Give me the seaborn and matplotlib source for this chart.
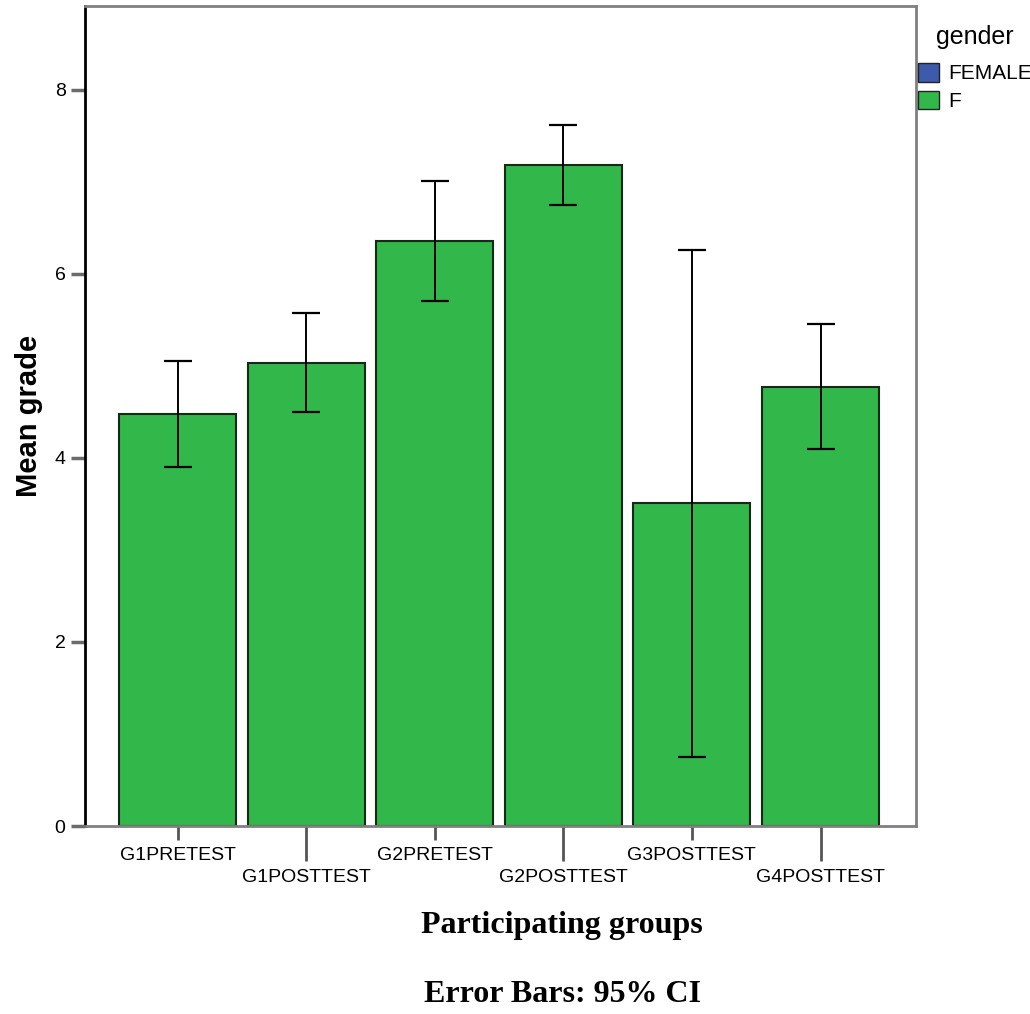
import matplotlib
matplotlib.use("Agg")
import matplotlib.pyplot as plt
from matplotlib.patches import Patch
import numpy as np
import pandas as pd
import seaborn as sns

# Mean grade per participating group with 95% CI bounds
groups = ["G1PRETEST", "G1POSTTEST", "G2PRETEST", "G2POSTTEST", "G3POSTTEST", "G4POSTTEST"]
mean_grade = [4.48, 5.03, 6.36, 7.18, 3.51, 4.77]
ci_low = [3.90, 4.50, 5.71, 6.75, 0.75, 4.10]
ci_high = [5.05, 5.58, 7.01, 7.62, 6.26, 5.46]
legend_labels = ["FEMALE", "F"]
y_ticks = [0, 2, 4, 6, 8]

GREEN = "#32b84a"
BLUE = "#3d5aab"

df = pd.DataFrame({"group": groups, "mean": mean_grade, "low": ci_low, "high": ci_high})

sns.set_style("white")
plt.rcParams["font.family"] = ["Liberation Sans", "DejaVu Sans"]
plt.rcParams["text.color"] = "black"
plt.rcParams["axes.labelcolor"] = "black"
plt.rcParams["xtick.labelcolor"] = "black"
plt.rcParams["ytick.labelcolor"] = "black"

fig = plt.figure(figsize=(10.30, 10.14), dpi=100)
ax = fig.add_axes([0.0825, 0.1854, 0.8065, 0.8086])

sns.barplot(data=df, x="group", y="mean", color=GREEN, errorbar=None,
            width=0.91, edgecolor="#142a17", linewidth=1.5, saturation=1, ax=ax)

xpos = np.arange(len(groups))
means = df["mean"].to_numpy()
yerr = np.vstack([means - df["low"].to_numpy(), df["high"].to_numpy() - means])
ax.errorbar(xpos, means, yerr=yerr, fmt="none", ecolor="black",
            elinewidth=1.4, capsize=10, capthick=1.6, zorder=5)

ax.set_xlim(-0.72, 5.74)
ax.set_ylim(0, 8.91)
ax.set_yticks(y_ticks)
ax.tick_params(axis="y", left=True, length=10, width=2.5, color="#6b6b6b",
               labelsize=14, pad=4)

# staggered category labels: even positions on the upper row, odd on the lower row
ax.set_xticks(xpos[::2], labels=groups[::2])
ax.set_xticks(xpos[1::2], labels=groups[1::2], minor=True)
ax.tick_params(axis="x", which="major", bottom=True, length=10, width=2,
               color="#555555", labelsize=14, pad=5)
ax.tick_params(axis="x", which="minor", bottom=True, length=25, width=2,
               color="#555555", labelsize=14, pad=6)

for side in ["top", "right", "bottom"]:
    ax.spines[side].set_color("#808080")
    ax.spines[side].set_linewidth(2)
ax.spines["left"].set_color("black")
ax.spines["left"].set_linewidth(2)

ax.set_xlabel("")
ax.set_ylabel("Mean grade", fontsize=21, fontweight="bold", labelpad=8)

fig.text(562 / 1030, 1 - 926 / 1014, "Participating groups", ha="center", va="center",
         fontsize=23, fontweight="bold", family="Liberation Serif")
fig.text(562 / 1030, 1 - 995 / 1014, "Error Bars: 95% CI", ha="center", va="center",
         fontsize=23, fontweight="bold", family="Liberation Serif")

handles = [Patch(facecolor=BLUE, edgecolor="#222222", label=legend_labels[0]),
           Patch(facecolor=GREEN, edgecolor="#222222", label=legend_labels[1])]
leg = fig.legend(handles=handles, title="gender", loc="upper left",
                 bbox_to_anchor=(918 / 1030, 1 - 25 / 1014), frameon=False, fontsize=15,
                 title_fontsize=18, handlelength=1.0, handleheight=1.0,
                 handletextpad=0.45, labelspacing=0.35, borderaxespad=0, borderpad=0)
leg._legend_box.align = "center"
leg._legend_box.sep = 10

fig.savefig("out.png", dpi=100)
